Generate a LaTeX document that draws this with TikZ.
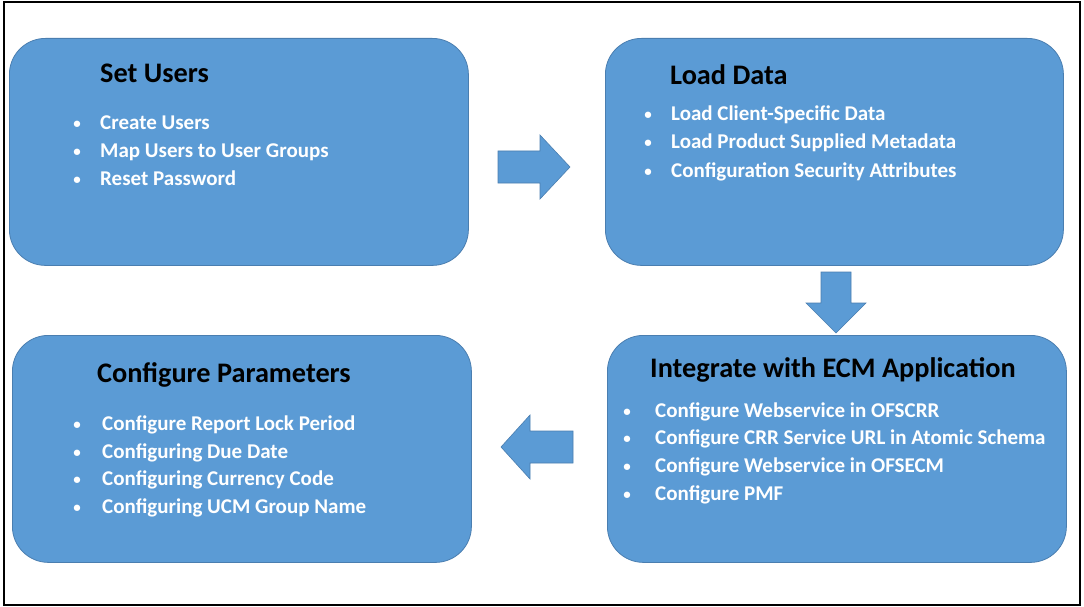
\documentclass[tikz,border=0pt]{standalone}
\usepackage{fontspec}
\setmainfont{Carlito}
\definecolor{boxblue}{HTML}{5B9BD5}
\definecolor{boxline}{HTML}{4A7EB0}
\begin{document}
\begin{tikzpicture}[x=1pt,y=-1pt,
  stage/.style={draw=boxline, fill=boxblue, rounded corners=36pt, line width=0.8pt, anchor=north west, inner sep=0pt},
  title/.style={anchor=base west, inner sep=0pt, font=\fontsize{28.3}{34}\selectfont\bfseries, text=black},
  item/.style={anchor=base west, inner sep=0pt, font=\fontsize{21}{25}\selectfont\bfseries, text=white},
  bul/.style={anchor=base, inner sep=0pt, font=\fontsize{15}{18}\selectfont\bfseries, text=white},
  blockarrow/.style={fill=boxblue, draw=boxline, line width=0.6pt, line join=miter}]
\useasboundingbox (0,0) rectangle (1084,607);
\fill[white] (0,0) rectangle (1084,607);
\draw[line width=1.6pt] (4,2) rectangle (1080,605);

% stage boxes
\node[stage, minimum width=459pt, minimum height=227pt] (setusers) at (9,38) {};
\node[stage, minimum width=458pt, minimum height=227pt] (loaddata) at (605,38) {};
\node[stage, minimum width=459pt, minimum height=227pt] (integrate) at (607,335) {};
\node[stage, minimum width=459pt, minimum height=227pt] (params) at (12,335) {};

% block arrows
\filldraw[blockarrow] (498,151) -- (540,151) -- (540,135) -- (570,167) -- (540,199) -- (540,183) -- (498,183) -- cycle;
\filldraw[blockarrow] (821,272) -- (851,272) -- (851,303) -- (866,303) -- (836,333) -- (806,303) -- (821,303) -- cycle;
\filldraw[blockarrow] (573,431) -- (530,431) -- (530,415) -- (501,447) -- (530,479) -- (530,463) -- (573,463) -- cycle;

% Set Users
\node[title] (t1) at (100,83) {Set Users};
\foreach \y/\txt [count=\i] in {130/Create Users, 157.5/Map Users to User Groups, 185/Reset Password}{
  \node[bul] (b1\i) at (77,\y-1) {•};
  \node[item] (i1\i) at (100,\y) {\txt};
}

% Load Data
\node[title] (t2) at (670,85) {Load Data};
\foreach \y/\txt [count=\i] in {121/Load Client-Specific Data, 148.5/Load Product Supplied Metadata, 177/Configuration Security Attributes}{
  \node[bul] (b2\i) at (648,\y-1) {•};
  \node[item] (i2\i) at (671,\y) {\txt};
}

% Integrate with ECM Application
\node[title] (t3) at (650,377) {Integrate with ECM Application};
\foreach \y/\txt [count=\i] in {417/Configure Webservice in OFSCRR, 444.5/Configure CRR Service URL in Atomic Schema, 472/Configure Webservice in OFSECM, 500/Configure PMF}{
  \node[bul] (b3\i) at (627,\y-1) {•};
  \node[item] (i3\i) at (655,\y) {\txt};
}

% Configure Parameters
\node[title] (t4) at (97,382) {Configure Parameters};
\foreach \y/\txt [count=\i] in {430/Configure Report Lock Period, 458/Configuring Due Date, 485.5/Configuring Currency Code, 513/Configuring UCM Group Name}{
  \node[bul] (b4\i) at (77,\y-1) {•};
  \node[item] (i4\i) at (102,\y) {\txt};
}
\end{tikzpicture}
\end{document}
